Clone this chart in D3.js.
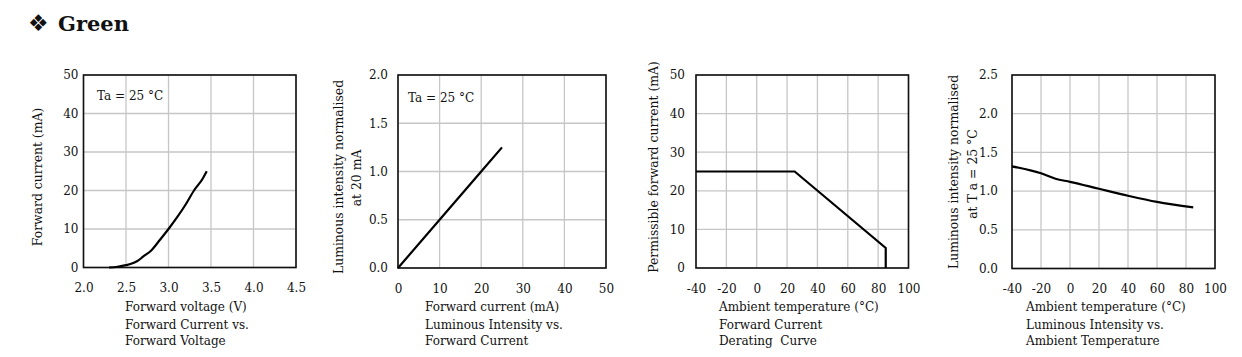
<!DOCTYPE html>
<html><head><meta charset="utf-8">
<script src="https://cdn.jsdelivr.net/npm/d3@7"></script>
<style>
html,body{margin:0;padding:0;background:#fff;}
svg text{font-family:"DejaVu Serif",serif;fill:#111;white-space:pre;}
</style></head>
<body><svg id="c" width="1242" height="357"></svg>
<script>
// ---- data ----
const ivVoltage = [2.3, 2.4, 2.5, 2.6, 2.65, 2.7, 2.8, 2.9, 3.0, 3.1, 3.2, 3.3, 3.4, 3.45];
const ivCurrent = [0, 0.2, 0.6, 1.3, 1.9, 2.8, 4.5, 7.2, 10, 13, 16.3, 20, 23, 25];
const liCurrent = [0, 10, 20, 25];
const liIntensity = [0, 0.5, 1.0, 1.25];
const drTemp = [-40, 25, 85, 85];
const drCurrent = [25, 25, 5.2, 0];
const ltTemp = [-40, -20, -10, 0, 20, 40, 60, 85];
const ltIntensity = [1.32, 1.23, 1.16, 1.12, 1.03, 0.94, 0.86, 0.79];

const ticks1x = [2.0, 2.5, 3.0, 3.5, 4.0, 4.5], ticks1y = [0, 10, 20, 30, 40, 50];
const ticks2x = [0, 10, 20, 30, 40, 50], ticks2y = [0.0, 0.5, 1.0, 1.5, 2.0];
const ticks3x = [-40, -20, 0, 20, 40, 60, 80, 100], ticks3y = [0, 10, 20, 30, 40, 50];
const ticks4x = [-40, -20, 0, 20, 40, 60, 80, 100], ticks4y = [0.0, 0.5, 1.0, 1.5, 2.0, 2.5];

const svg = d3.select("#c");

// title
svg.append("text").attr("x", 28).attr("y", 31).style("font-family", "DejaVu Sans")
  .style("font-size", "23px").text("\u2756");
svg.append("text").attr("x", 58).attr("y", 30.5).style("font-weight", "bold")
  .style("font-size", "21px").text("Green");

function panel(o) {
  const g = svg.append("g");
  const x = d3.scaleLinear().domain(o.xd).range([o.l, o.r]);
  const y = d3.scaleLinear().domain(o.yd).range([o.b, o.t]);
  // grid
  g.append("g").selectAll("line").data(o.xt).join("line")
    .attr("x1", d => x(d)).attr("x2", d => x(d)).attr("y1", o.t).attr("y2", o.b)
    .attr("stroke", "#c6c6c6").attr("stroke-width", 1.3);
  g.append("g").selectAll("line").data(o.yt).join("line")
    .attr("y1", d => y(d)).attr("y2", d => y(d)).attr("x1", o.l).attr("x2", o.r)
    .attr("stroke", "#c6c6c6").attr("stroke-width", 1.3);
  // axes labels via d3 axes
  const ax = g.append("g").attr("transform", `translate(0,${o.b})`)
    .call(d3.axisBottom(x).tickValues(o.xt).tickSize(0).tickPadding(16).tickFormat(o.xf));
  const ay = g.append("g").attr("transform", `translate(${o.l},0)`)
    .call(d3.axisLeft(y).tickValues(o.yt).tickSize(0).tickPadding(o.yp).tickFormat(o.yf));
  [ax, ay].forEach(a => {
    a.select(".domain").remove();
    a.selectAll("text").style("font-family", "DejaVu Serif").style("font-size", "12px").attr("fill", "#111");
  });
  // border
  g.append("rect").attr("x", o.l).attr("y", o.t).attr("width", o.r - o.l).attr("height", o.b - o.t)
    .attr("fill", "none").attr("stroke", "#111").attr("stroke-width", 1.6);
  // line
  const pts = o.xs.map((d, i) => [d, o.ys[i]]);
  g.append("path").datum(pts)
    .attr("d", d3.line().x(d => x(d[0])).y(d => y(d[1])).curve(o.curve || d3.curveLinear))
    .attr("fill", "none").attr("stroke", "#000").attr("stroke-width", 2.2).attr("stroke-linejoin", "miter");
  // y label lines
  o.ylab.forEach(l => {
    g.append("text").attr("transform", `translate(${l.x},${l.y}) rotate(-90)`)
      .attr("text-anchor", "middle").attr("dy", "0.35em").style("font-size", "12.4px").text(l.t);
  });
  // x label + caption
  o.cap.forEach((t, i) => {
    g.append("text").attr("x", o.cx).attr("y", [311, 328.5, 344.5][i]).style("font-size", "12px").text(t);
  });
  if (o.ta) g.append("text").attr("x", o.ta[0]).attr("y", o.ta[1]).style("font-size", "12px").text("Ta = 25 \u00B0C");
}

const f1 = d3.format(".1f"), f0 = d => String(d);

panel({l: 83.5, r: 296, t: 75, b: 267.5, xd: [2.0, 4.5], yd: [0, 50], xt: ticks1x, yt: ticks1y,
  xf: f1, yf: f0, yp: 5, xs: ivVoltage, ys: ivCurrent, curve: d3.curveMonotoneX,
  ylab: [{x: 38, y: 177, t: "Forward current (mA)"}], cx: 125,
  cap: ["Forward voltage (V)", "Forward Current vs.", "Forward Voltage"], ta: [97, 99.5]});

panel({l: 398, r: 606, t: 75, b: 268, xd: [0, 50], yd: [0, 2.0], xt: ticks2x, yt: ticks2y,
  xf: f0, yf: f1, yp: 10, xs: liCurrent, ys: liIntensity,
  ylab: [{x: 339, y: 177, t: "Luminous intensity normalised"}, {x: 357, y: 178, t: "at 20 mA"}], cx: 425,
  cap: ["Forward current (mA)", "Luminous Intensity vs.", "Forward Current"], ta: [408, 101.5]});

panel({l: 696, r: 908.5, t: 75, b: 268, xd: [-40, 100], yd: [0, 50], xt: ticks3x, yt: ticks3y,
  xf: f0, yf: f0, yp: 11, xs: drTemp, ys: drCurrent,
  ylab: [{x: 654, y: 167, t: "Permissible forward current (mA)"}], cx: 719,
  cap: ["Ambient temperature (\u00B0C)", "Forward Current", "Derating  Curve"]});

panel({l: 1012, r: 1215, t: 75, b: 268.5, xd: [-40, 100], yd: [0, 2.5], xt: ticks4x, yt: ticks4y,
  xf: f0, yf: f1, yp: 14, xs: ltTemp, ys: ltIntensity, curve: d3.curveMonotoneX,
  ylab: [{x: 954, y: 172, t: "Luminous intensity normalised"}, {x: 972.5, y: 174, t: "at T a = 25 \u00B0C"}], cx: 1026,
  cap: ["Ambient temperature (\u00B0C)", "Luminous Intensity vs.", "Ambient Temperature"]});
</script></body></html>
